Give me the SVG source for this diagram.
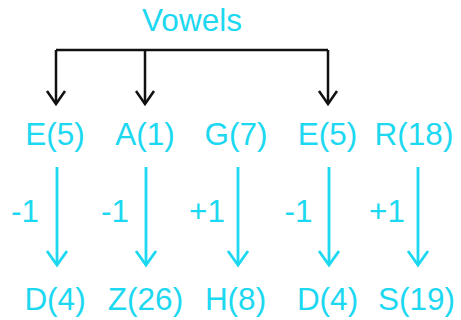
<svg xmlns="http://www.w3.org/2000/svg" width="461" height="320" viewBox="0 0 461 320">
<style>
text{font-family:"Liberation Sans",Arial,sans-serif;fill:#1cd8f0;text-anchor:middle;font-size:31.5px}
.blk{stroke:#111;stroke-width:2.5;fill:none}
.cy{stroke:#1cd8f0;stroke-width:2.8;fill:none}
</style>
<g id="title"><text x="192" y="31">Vowels</text></g>
<g id="connectors">
<path class="blk" d="M56 50H328M56 50V104M145 50V104M328 50V104"/>
<path class="blk" d="M47 91L56 104L65 91M136 91L145 104L154 91M319 91L328 104L337 91"/>
<path class="cy" d="M57 167V265M146 167V265M238 167V265M329 167V265M418 167V265"/>
<path class="cy" d="M47 251L57 265L67 251M136 251L146 265L156 251M228 251L238 265L248 251M319 251L329 265L339 251M408 251L418 265L428 251"/>
</g>
<g id="n1"><text x="55" y="145">E(5)</text></g>
<g id="n2"><text x="145" y="145">A(1)</text></g>
<g id="n3"><text x="236" y="145">G(7)</text></g>
<g id="n4"><text x="327.5" y="145">E(5)</text></g>
<g id="n5"><text x="414" y="145">R(18)</text></g>
<g id="l1"><text x="25" y="222">-1</text></g>
<g id="l2"><text x="115" y="222">-1</text></g>
<g id="l3"><text x="207" y="222">+1</text></g>
<g id="l4"><text x="298.5" y="222">-1</text></g>
<g id="l5"><text x="387" y="222">+1</text></g>
<g id="m1"><text x="55" y="310">D(4)</text></g>
<g id="m2"><text x="145.5" y="310">Z(26)</text></g>
<g id="m3"><text x="235.5" y="310">H(8)</text></g>
<g id="m4"><text x="327.5" y="310">D(4)</text></g>
<g id="m5"><text x="416.5" y="310">S(19)</text></g>
</svg>
